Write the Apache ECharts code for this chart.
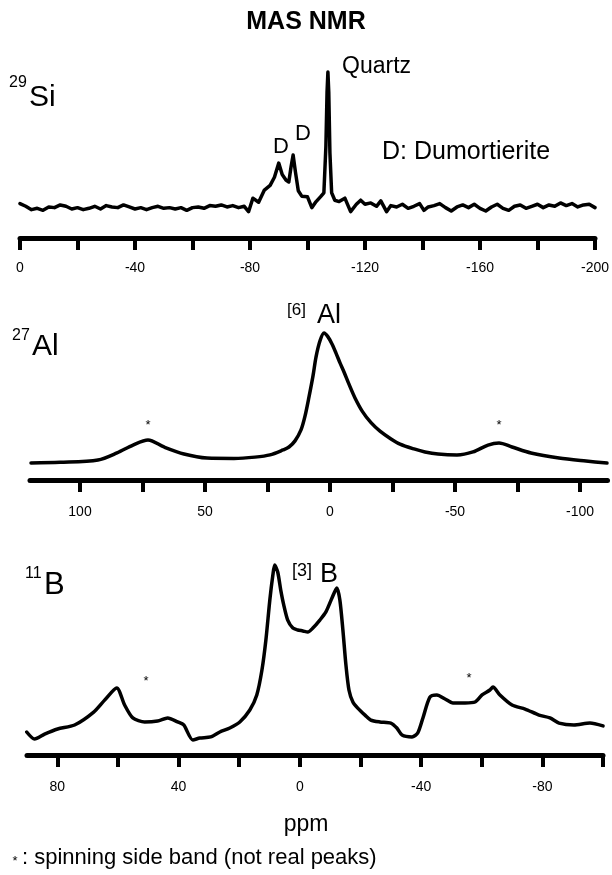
<!DOCTYPE html>
<html>
<head>
<meta charset="utf-8">
<style>html,body{margin:0;padding:0;background:#fff;}#c{width:612px;height:875px;}</style>
<script src="https://cdn.jsdelivr.net/npm/echarts@6/dist/echarts.min.js"></script>
</head>
<body>
<div id="c"></div>
<script>
// ---- 29Si ----
var siPpm = [0,-2,-4,-6,-8,-10,-12,-14,-16,-18,-20,-22,-24,-26,-28,-30,-32,-34,-36,-38,-40,-42,-44,-46,-48,-50,-52,-54,-56,-58,-60,-62,-64,-66,-68,-70,-72,-74,-76,-78,-79.5,-81,-83,-85,-87,-88.5,-90,-91.2,-92.5,-93.5,-94.3,-95,-95.8,-96.8,-98,-100,-101.5,-103,-104.5,-105.7,-106.4,-106.8,-107.1,-107.4,-107.8,-108.4,-109.5,-111,-113,-115,-117,-118.5,-120,-122,-124,-125.5,-127.5,-129,-131,-133,-135,-137,-139,-140.5,-142,-144,-146,-148,-150,-152,-154,-156,-158,-160,-162,-164,-166,-168,-170,-172,-174,-176,-178,-180,-182,-184,-186,-188,-190,-192,-194,-196,-198,-200];
var siIntensity = [2.5,0.5,-2,-1,-2.5,0,-0.5,1.5,0.5,-1.5,-0.5,-2,-1,0.5,-1.5,1,0,-0.5,1.5,0,-1.5,-0.5,-2,-0.5,0.5,-1,-0.5,-1.5,-0.5,-2.5,-0.5,0,-1,1,0.5,1.5,0,1,-0.5,0.5,-3.5,6.5,3.5,12.5,16,22,32.5,24,20,18.5,30,38.5,26,12,8,7.5,-0.5,4,7.5,10.5,45,85,100,85,40,10.5,5,4,6.5,-3.5,2,5,2,3,0.5,4.5,-3.5,1,0,2,-1,0.5,2.5,-2.5,0,1,2.5,-0.5,-3,0,1.5,-0.5,2,-1,-3,0,2,-1,-2.5,0.5,1.5,-1,0.5,2,-0.5,1.5,0.5,3,1,2.5,0,1.5,2,-0.5];
var siTicks = [0,-20,-40,-60,-80,-100,-120,-140,-160,-180,-200];
var siLabels = [0,-40,-80,-120,-160,-200];

// ---- 27Al ----
var alPpm = [119.6,108,92.8,85.2,78.8,72.8,66.4,58.4,49.2,38.4,30,24,18.8,16.4,14,11.6,10,8.4,6.8,5.6,4,2.4,0.8,-0.8,-2.4,-4,-5.6,-7.5,-10,-13,-16.4,-20,-24.4,-28,-33.6,-38,-43.2,-50.8,-57.2,-63.2,-67.6,-72.8,-80.4,-91.6,-102.4,-110.8];
var alIntensity = [0,0.5,2.3,7.7,13.8,17.7,12.3,6.9,3.8,3.5,4.5,6.2,10,12.3,17,25.4,36,50.8,67,81.5,94,100,97,91.5,84.5,77,70,61,50,39.5,31,24.5,18.5,14.5,10.8,8.5,6.9,6.2,8.5,13.8,15.4,12.3,7.7,3.8,1.5,0];
var alTicks = [100,75,50,25,0,-25,-50,-75,-100];
var alLabels = [100,50,0,-50,-100];

// ---- 11B ----
var bPpm = [90.1,87.5,84.2,79.9,74.3,68,64.4,60.4,57.8,55.1,51.2,46.9,43.6,40.3,38.3,35.3,33,29.4,26.4,23.1,19.8,16.5,14.2,12.5,11.2,9.9,8.9,8.3,7.3,6.3,5.3,4,2.3,0.7,-1,-2.6,-4.3,-6.6,-8.6,-10.6,-12.2,-13.2,-14.2,-15.2,-16.2,-17.5,-19.1,-21.5,-23.4,-26.4,-30,-32,-33.7,-37,-38.9,-40.6,-42.9,-45.2,-47.9,-50.5,-54.5,-57.8,-60.1,-62.7,-63.7,-66,-70,-74.3,-78.9,-82.5,-85.5,-90.4,-95.7,-100];
var bIntensity = [12.1,8.4,11,13.7,15.8,22.6,28.9,35.3,26.3,19.5,17.4,17.9,19.5,17.4,15.8,7.9,8.9,9.5,12.1,14.2,17.4,23.7,31.6,44.7,60.5,81.6,94.7,100,96.3,86.8,78.9,71,66.8,65.8,65.3,64.7,66.8,71,75.3,82.6,87.9,81.6,65.8,47.4,34.2,27.9,24.7,21,18.4,17.4,16.8,14.2,10.5,9.5,11.6,19.5,30.5,31.6,29.5,27.4,27.4,27.9,31.6,34.2,35.8,31.6,26.3,24.2,21,19.5,16.8,15.8,16.8,15.3];
var bTicks = [80,60,40,20,0,-20,-40,-60,-80,-100];
var bLabels = [80,40,0,-40,-80];

var FONT = "'Liberation Sans', Arial, Helvetica, sans-serif";

function zip(a, b) { return a.map(function (v, i) { return [v, b[i]]; }); }

function xAx(grid, min, max, ticks, labels, margin) {
  return {
    type: 'value', gridIndex: grid, inverse: true, min: min, max: max,
    axisLine: { show: true, onZero: false, lineStyle: { color: '#000', width: 5 } },
    axisTick: { show: true, length: 12, lineStyle: { color: '#000', width: 4 }, customValues: ticks },
    axisLabel: { color: '#000', fontSize: 14, fontFamily: FONT, margin: margin, customValues: labels,
      formatter: function (v) { return String(v); } },
    splitLine: { show: false }
  };
}
function yAx(grid, min, max) {
  return { type: 'value', gridIndex: grid, min: min, max: max, show: false };
}
function line(i, data, smooth) {
  return { type: 'line', xAxisIndex: i, yAxisIndex: i, data: data, symbol: 'none', clip: false,
    smooth: smooth, lineStyle: { color: '#000', width: 3.5, join: 'round', cap: 'round' }, silent: true };
}
function txt(s, x, y, size, opts) {
  opts = opts || {};
  return { type: 'text', x: x, y: y, silent: true,
    style: { text: s, fill: '#000', font: (opts.bold ? 'bold ' : '') + size + 'px ' + FONT,
      align: opts.align || 'left', verticalAlign: 'middle' } };
}

var chart = echarts.init(document.getElementById('c'), null, { renderer: 'canvas' });
chart.setOption({
  animation: false,
  backgroundColor: '#fff',
  grid: [
    { left: 20, width: 576, top: 72, height: 166 },
    { left: 30, width: 577.5, top: 333, height: 147 },
    { left: 27, width: 576, top: 565, height: 190 }
  ],
  xAxis: [
    xAx(0, -200, 0, siTicks, siLabels, 23),
    xAx(1, -111, 120, alTicks, alLabels, 25),
    xAx(2, -100, 90, bTicks, bLabels, 25)
  ],
  yAxis: [yAx(0, -23, 100), yAx(1, -13.1, 100), yAx(2, 0, 100)],
  series: [
    line(0, zip(siPpm, siIntensity), false),
    line(1, zip(alPpm, alIntensity), 0.3),
    line(2, zip(bPpm, bIntensity), 0.25)
  ],
  graphic: [
    txt('MAS NMR', 306, 22, 25, { bold: true, align: 'center' }),
    txt('29', 9, 83, 16), txt('Si', 29, 98, 30),
    txt('Quartz', 342, 67, 23),
    txt('D', 273, 147, 22), txt('D', 295, 134, 22),
    txt('D: Dumortierite', 382, 152, 25),
    txt('27', 12, 336, 16), txt('Al', 32, 347, 30),
    txt('[6]', 287, 310, 17), txt('Al', 317, 316, 27),
    txt('*', 148, 425, 13, { align: 'center' }), txt('*', 499, 425, 13, { align: 'center' }),
    txt('11', 25, 574, 16), txt('B', 44, 585, 31),
    txt('[3]', 292, 571, 18), txt('B', 320, 575, 27),
    txt('*', 146, 681, 13, { align: 'center' }), txt('*', 469, 678, 13, { align: 'center' }),
    txt('ppm', 306, 825, 23, { align: 'center' }),
    txt('*', 15, 861, 13, { align: 'center' }),
    txt(': spinning side band (not real peaks)', 22, 858, 22)
  ]
});
</script>
</body>
</html>
